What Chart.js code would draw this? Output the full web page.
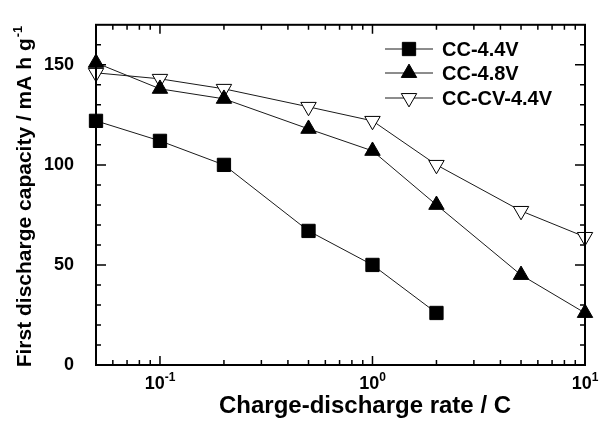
<!DOCTYPE html>
<html>
<head>
<meta charset="utf-8">
<script src="https://cdn.jsdelivr.net/npm/chart.js@4"></script>
<style>
  html, body { margin: 0; padding: 0; background: #fff; }
</style>
</head>
<body>
<canvas id="myChart" width="605" height="422"></canvas>
<script>
// rates in C, capacities in mA h g-1
const rates = [0.05, 0.1, 0.2, 0.5, 1, 2, 5, 10];
const cc44 = [122, 112, 100, 67, 50, 26];
const cc48 = [151, 138, 133, 118, 107, 80, 45, 26];
const cccv44 = [146, 143, 138, 129, 122, 100, 77, 64];
const seriesNames = ['CC-4.4V', 'CC-4.8V', 'CC-CV-4.4V'];

const yLabelTicks = [0, 50, 100, 150];
const xMajorTicks = [0.1, 1, 10];
const xExponents = ['-1', '0', '1'];
const xMinorTicks = [0.05, 0.06, 0.07, 0.08, 0.09, 0.2, 0.3, 0.4, 0.5, 0.6, 0.7, 0.8, 0.9,
  2, 3, 4, 5, 6, 7, 8, 9];

const FONT = "'Liberation Sans', Arial, Helvetica, sans-serif";
const ctx = document.getElementById('myChart').getContext('2d');

const toPoints = (vals) => vals.map((v, i) => ({ x: rates[i], y: v }));

const baseSet = {
  borderColor: '#1a1a1a',
  borderWidth: 1,
  pointBorderColor: '#000',
  pointBorderWidth: 1,
  clip: false,
  tension: 0,
};

const datasets = [
  { ...baseSet, label: seriesNames[0], data: toPoints(cc44), pointStyle: 'rect', pointRadius: 9.4, pointBackgroundColor: '#000' },
  { ...baseSet, label: seriesNames[1], data: toPoints(cc48), pointStyle: 'triangle', pointRadius: 8.9, pointBackgroundColor: '#000' },
  { ...baseSet, label: seriesNames[2], data: toPoints(cccv44), pointStyle: 'triangle', pointRotation: 180, pointRadius: 8.9, pointBackgroundColor: '#fff' },
];

const framePlugin = {
  id: 'frame',
  afterDraw(chart) {
    const c = chart.ctx;
    const a = chart.chartArea;
    const xs = chart.scales.x;
    const ys = chart.scales.y;
    c.save();
    c.strokeStyle = '#000';

    // inward ticks on all four sides
    c.lineWidth = 1.5;
    c.beginPath();
    const xTick = (v, len) => {
      const px = xs.getPixelForValue(v);
      c.moveTo(px, a.bottom); c.lineTo(px, a.bottom - len);
      c.moveTo(px, a.top); c.lineTo(px, a.top + len);
    };
    xMajorTicks.forEach(v => xTick(v, 9));
    xMinorTicks.forEach(v => xTick(v, 5));
    for (let v = 10; v < 170; v += 10) {
      const len = yLabelTicks.includes(v) ? 10 : 5;
      const py = ys.getPixelForValue(v);
      c.moveTo(a.left, py); c.lineTo(a.left + len, py);
      c.moveTo(a.right, py); c.lineTo(a.right - len, py);
    }
    c.stroke();

    // frame
    c.lineWidth = 2;
    c.strokeRect(a.left, a.top, a.right - a.left, a.bottom - a.top);

    // x tick labels 10^n
    c.fillStyle = '#000';
    xMajorTicks.forEach((v, i) => {
      const px = xs.getPixelForValue(v);
      c.font = 'bold 18px ' + FONT;
      const w1 = c.measureText('10').width;
      c.font = 'bold 12px ' + FONT;
      const w2 = c.measureText(xExponents[i]).width;
      const x0 = px - (w1 + w2) / 2;
      c.textBaseline = 'alphabetic';
      c.textAlign = 'left';
      c.font = 'bold 18px ' + FONT;
      c.fillText('10', x0, 389);
      c.font = 'bold 12px ' + FONT;
      c.fillText(xExponents[i], x0 + w1, 381);
    });

    // x title
    c.font = 'bold 24px ' + FONT;
    c.textAlign = 'center';
    c.fillText('Charge-discharge rate / C', 365, 413);

    // y title (rotated)
    c.save();
    c.translate(31, 197);
    c.rotate(-Math.PI / 2);
    c.font = 'bold 21px ' + FONT;
    const main = 'First discharge capacity / mA h g';
    const wm = c.measureText(main).width;
    c.font = 'bold 13px ' + FONT;
    const ws = c.measureText('-1').width;
    const sx = -(wm + ws) / 2;
    c.textAlign = 'left';
    c.font = 'bold 21px ' + FONT;
    c.fillText(main, sx, 0);
    c.font = 'bold 13px ' + FONT;
    c.fillText('-1', sx + wm + 1, -9);
    c.restore();

    // legend
    const rows = [49, 73, 98];
    chart.data.datasets.forEach((ds, i) => {
      const y = rows[i];
      c.lineWidth = 1;
      c.strokeStyle = '#1a1a1a';
      c.beginPath();
      c.moveTo(385, y); c.lineTo(433, y);
      c.stroke();
      c.fillStyle = ds.pointBackgroundColor;
      c.strokeStyle = '#000';
      Chart.helpers.drawPoint(c, {
        pointStyle: ds.pointStyle,
        rotation: ds.pointRotation || 0,
        radius: ds.pointRadius,
        borderWidth: 1,
      }, 409, y);
      c.fillStyle = '#000';
      c.font = 'bold 20px ' + FONT;
      c.textAlign = 'left';
      c.textBaseline = 'middle';
      c.fillText(ds.label, 442, y + 1);
    });
    c.restore();
  },
};

new Chart(ctx, {
  type: 'line',
  data: { datasets },
  options: {
    responsive: false,
    animation: false,
    layout: { padding: { top: 15, right: 20, left: 0, bottom: 0 } },
    plugins: { legend: { display: false }, tooltip: { enabled: false } },
    scales: {
      x: {
        type: 'logarithmic',
        min: 0.05,
        max: 10,
        grid: { display: false },
        border: { display: false },
        ticks: { display: false },
        afterFit: (scale) => { scale.height = 57; },
      },
      y: {
        min: 0,
        max: 170,
        grid: { display: false },
        border: { display: false },
        ticks: {
          stepSize: 10,
          autoSkip: false,
          padding: 14,
          color: '#000',
          font: { family: FONT, size: 18, weight: 'bold' },
          callback: (v) => (yLabelTicks.includes(v) ? String(v) : ''),
        },
        afterFit: (scale) => { scale.width = 96; },
      },
    },
  },
  plugins: [framePlugin],
});
</script>
</body>
</html>
